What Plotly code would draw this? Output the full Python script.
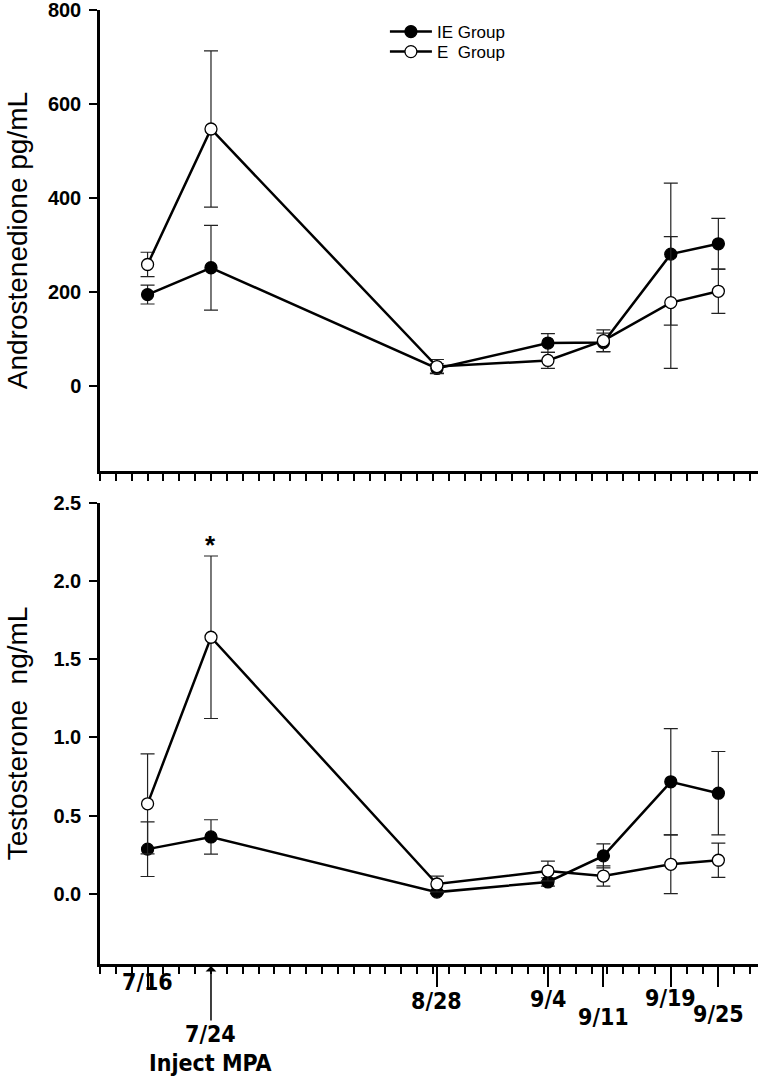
import plotly.graph_objects as go

# ---- data ----
dates = ["7/16", "7/24", "8/28", "9/4", "9/11", "9/19", "9/25"]
days = [0, 8, 36.5, 50.5, 57.5, 66, 72]

andro_ie = [195, 252, 38, 92, 93, 281, 303]
andro_ie_err = [20, 90, 10, 20, 20, 151, 54]
andro_e = [259, 547, 42, 55, 97, 178, 202]
andro_e_err = [26, 166, 15, 17, 23, 140, 47]

testo_ie = [0.285, 0.363, 0.010, 0.075, 0.242, 0.716, 0.643]
testo_ie_err = [0.175, 0.11, 0.01, 0.027, 0.077, 0.34, 0.267]
testo_e = [0.575, 1.641, 0.062, 0.145, 0.113, 0.188, 0.214]
testo_e_err = [0.32, 0.52, 0.05, 0.063, 0.065, 0.188, 0.11]

label_drop = {"7/16": 18, "8/28": 37, "9/4": 35, "9/11": 53, "9/19": 34, "9/25": 50}

FONT = "Liberation Sans, Arial, sans-serif"
NARROW = "Liberation Sans Narrow, DejaVu Sans Condensed, Arial Narrow, sans-serif"

fig = go.Figure()

def add(xa, ya, y, err, filled, name, show, legend):
    fig.add_trace(go.Scatter(
        x=days, y=y, name=name, xaxis=xa, yaxis=ya, mode="lines+markers",
        showlegend=show, legend=legend,
        line=dict(color="black", width=2.5),
        marker=dict(size=12, color="black" if filled else "white",
                    line=dict(color="black", width=1.3)),
        error_y=dict(type="data", array=err, visible=True, color="#222",
                     thickness=1.2, width=7),
    ))

add("x", "y", andro_ie, andro_ie_err, True, "IE Group", True, "legend")
add("x", "y", andro_e, andro_e_err, False, "E\u00a0 Group", True, "legend2")
add("x2", "y2", testo_ie, testo_ie_err, True, "IE Group", False, "legend")
add("x2", "y2", testo_e, testo_e_err, False, "E\u00a0 Group", False, "legend2")

xr = [-6, 77]
common_y = dict(showline=True, linecolor="black", linewidth=2.5, ticks="outside",
                ticklen=8, tickwidth=2, tickcolor="black", showgrid=False,
                zeroline=False, automargin=False, ticklabeloverflow="allow",
                ticklabelstandoff=4,
                tickfont=dict(family=FONT, size=20, color="black", weight="bold"))

major_vals = [days[i] for i, d in enumerate(dates) if d != "7/24"]

leg_common = dict(x=0.433, xanchor="left", yanchor="middle",
                  font=dict(family=FONT, size=17, color="black"),
                  bgcolor="rgba(0,0,0,0)", itemwidth=42)

fig.update_layout(
    width=764, height=1079,
    margin=dict(l=100, r=6, t=10, b=115),
    plot_bgcolor="white", paper_bgcolor="white",
    font=dict(family=FONT, color="black"),
    xaxis=dict(domain=[0, 1], anchor="y", range=xr, showline=True, linecolor="black",
               linewidth=3, ticks="outside", tick0=-6, dtick=2, ticklen=7,
               tickwidth=1.5, tickcolor="black", showticklabels=False,
               showgrid=False, zeroline=False, automargin=False),
    xaxis2=dict(domain=[0, 1], anchor="y2", range=xr, showline=True, linecolor="black",
                linewidth=3, ticks="outside", tickmode="array", tickvals=major_vals,
                ticklen=20, tickwidth=2, tickcolor="black", showticklabels=False,
                showgrid=False, zeroline=False, automargin=False,
                minor=dict(ticks="outside", tick0=-6, dtick=2, ticklen=7,
                           tickwidth=1.5, tickcolor="black", showgrid=False)),
    yaxis=dict(domain=[0.5168, 1], anchor="x", range=[-180, 800],
               tickmode="array", tickvals=[0, 200, 400, 600, 800], **common_y),
    yaxis2=dict(domain=[0, 0.4832], anchor="x2", range=[-0.45, 2.5],
                tickmode="array", tickvals=[0, 0.5, 1.0, 1.5, 2.0, 2.5],
                tickformat=".1f", **common_y),
    legend=dict(y=0.9769, **leg_common),
    legend2=dict(y=0.9559, **leg_common),
)

ann = []
for d, x in zip(dates, days):
    if d in label_drop:
        ann.append(dict(x=x, xref="x2", y=0, yref="paper", text=d, showarrow=False,
                        xanchor="center", yanchor="middle", yshift=-label_drop[d],
                        font=dict(family=NARROW, size=23, color="black", weight="bold")))
inj = days[dates.index("7/24")]
ann.append(dict(x=inj, xref="x2", y=0, yref="paper", text="7/24", showarrow=False,
                xanchor="center", yanchor="middle", yshift=-70,
                font=dict(family=NARROW, size=23, color="black", weight="bold")))
ann.append(dict(x=inj, xref="x2", y=0, yref="paper", text="Inject MPA", showarrow=False,
                xanchor="center", yanchor="middle", yshift=-99,
                font=dict(family=NARROW, size=23, color="black", weight="bold")))
ann.append(dict(x=inj, xref="x2", y=0, yref="paper", text="", showarrow=True,
                ax=0, ay=56, axref="pixel", ayref="pixel", yshift=-2,
                arrowhead=1, arrowsize=1.2, arrowwidth=1.5, arrowcolor="black"))
ann.append(dict(x=inj, xref="x2", y=testo_e[1] + testo_e_err[1], yref="y2", text="*",
                showarrow=False, xanchor="center", yanchor="bottom", yshift=-6,
                font=dict(family=FONT, size=26, color="black", weight="bold")))
ann.append(dict(x=-0.125, xref="paper", y=0.7584, yref="paper",
                text="Androstenedione pg/mL", textangle=-90, showarrow=False,
                xanchor="center", yanchor="middle",
                font=dict(family=FONT, size=28, color="black")))
ann.append(dict(x=-0.125, xref="paper", y=0.2416, yref="paper",
                text="Testosterone\u00a0 ng/mL", textangle=-90, showarrow=False,
                xanchor="center", yanchor="middle",
                font=dict(family=FONT, size=28, color="black")))
fig.update_layout(annotations=ann)

fig.write_html("out.html", config={"displayModeBar": False},
               post_script="document.body.style.margin='0px';document.body.style.overflow='hidden';")
